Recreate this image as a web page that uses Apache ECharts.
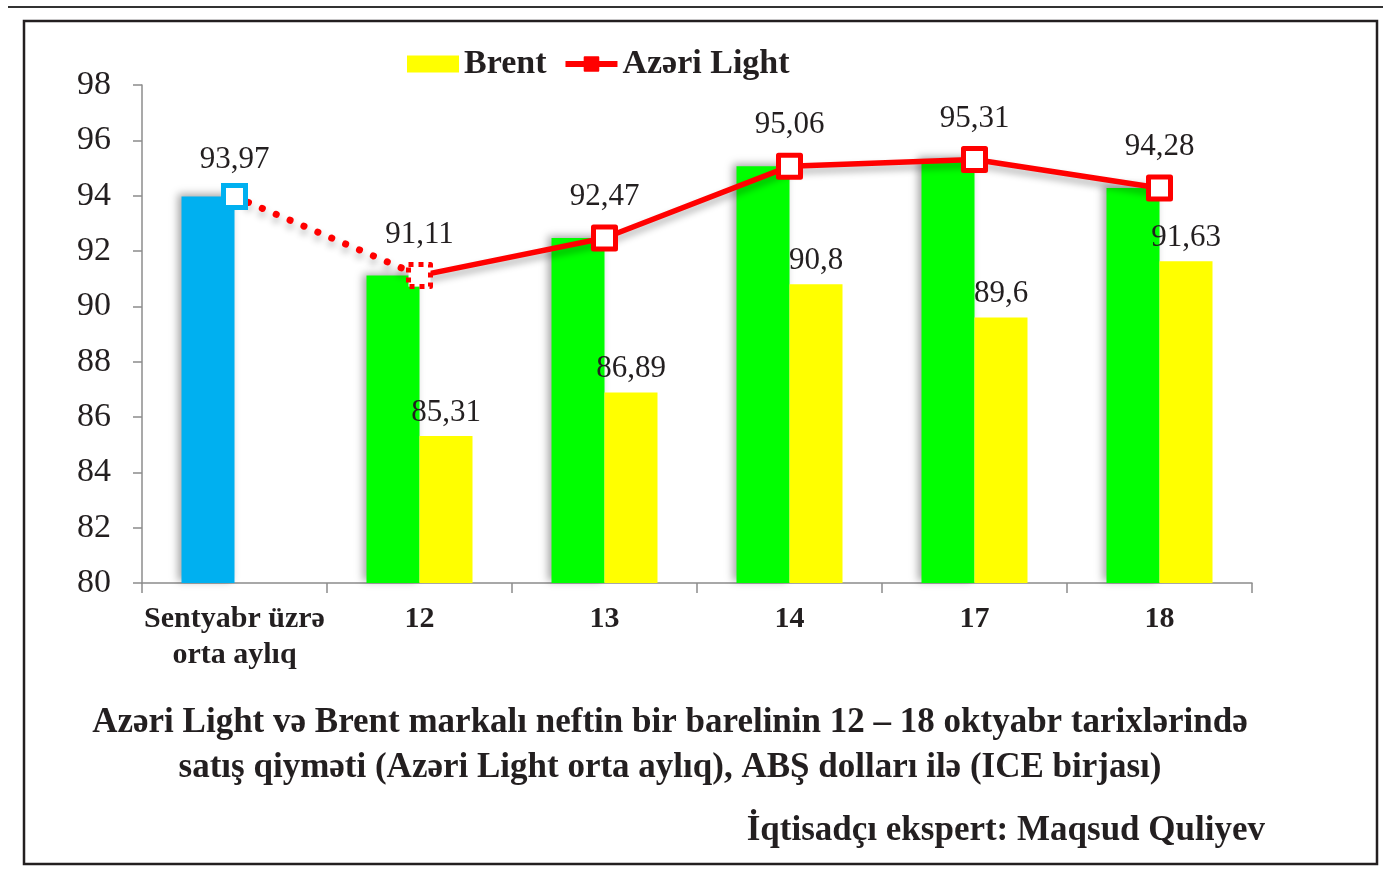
<!DOCTYPE html>
<html>
<head>
<meta charset="utf-8">
<script src="https://cdn.jsdelivr.net/npm/echarts@6/dist/echarts.min.js"></script>
<style>
  html, body { margin: 0; padding: 0; background: #fff; }
  #chart { width: 1395px; height: 875px; }
</style>
</head>
<body>
<div id="chart"></div>
<script>
// kateqoriyalar və qiymətlər
const categories = ['Sentyabr üzrə\norta aylıq', '12', '13', '14', '17', '18'];
const azeriLight = [93.97, 91.11, 92.47, 95.06, 95.31, 94.28];
const brent = [null, 85.31, 86.89, 90.8, 89.6, 91.63];
const yTicks = { min: 80, max: 98, step: 2 };

const serif = '"Liberation Serif", "DejaVu Serif", serif';
const fmt = v => String(v).replace('.', ',');
const shadow = { shadowColor: 'rgba(0,0,0,0.35)', shadowBlur: 8, shadowOffsetX: -4, shadowOffsetY: -2 };
const lineShadow = { shadowColor: 'rgba(0,0,0,0.3)', shadowBlur: 7, shadowOffsetY: 5 };

const chart = echarts.init(document.getElementById('chart'));

const option = {
  backgroundColor: '#fff',
  animation: false,
  textStyle: { fontFamily: serif },
  grid: { left: 142, right: 143, top: 85, bottom: 292 },
  legend: {
    data: [
      { name: 'Brent', icon: 'rect' },
      { name: 'Azəri Light', itemStyle: { color: '#ff0000', borderColor: '#ff0000' }, lineStyle: { width: 6 } },
    ],
    left: 402,
    top: 42,
    itemWidth: 52,
    itemHeight: 17,
    itemGap: 16,
    textStyle: { fontFamily: serif, fontSize: 34, fontWeight: 'bold', color: '#231f20' },
  },
  xAxis: {
    type: 'category',
    data: categories,
    axisLine: { lineStyle: { color: '#8c8c8c', width: 1.5 } },
    axisTick: { show: true, length: 10, lineStyle: { color: '#8c8c8c', width: 1.5 } },
    axisLabel: {
      interval: 0,
      fontFamily: serif, fontSize: 30, fontWeight: 'bold', color: '#231f20',
      margin: 18, lineHeight: 36,
    },
  },
  yAxis: {
    type: 'value',
    min: yTicks.min,
    max: yTicks.max,
    interval: yTicks.step,
    axisLine: { show: true, lineStyle: { color: '#8c8c8c', width: 1.5 } },
    axisTick: { show: true, length: 9, lineStyle: { color: '#8c8c8c', width: 1.5 } },
    splitLine: { show: false },
    axisLabel: { fontFamily: serif, fontSize: 34, color: '#231f20', margin: 31 },
  },
  series: [
    {
      name: 'Azəri bar',
      type: 'bar',
      barWidth: 53,
      barGap: '0%',
      data: azeriLight.map((v, i) => i === 0
        ? { value: v, itemStyle: { color: '#00b0f0' } }
        : v),
      itemStyle: Object.assign({ color: '#00ff00' }, shadow),
      z: 2,
    },
    {
      name: 'Brent',
      type: 'bar',
      barWidth: 53,
      barGap: '0%',
      data: brent.map(v => v === null ? '-' : v),
      itemStyle: { color: '#ffff00' },
      label: {
        show: true, position: 'top', distance: 8,
        fontFamily: serif, fontSize: 31, color: '#231f20',
        formatter: p => fmt(p.value),
      },
      z: 2,
    },
    {
      // sentyabr -> 12 oktyabr arası nöqtəli xətt
      name: 'Azəri dotted',
      type: 'line',
      data: azeriLight.map((v, i) => {
        if (i === 0) return {
          value: v, symbol: 'rect', symbolSize: 22,
          itemStyle: { color: '#fff', borderColor: '#00b0f0', borderWidth: 5 },
        };
        if (i === 1) return { value: v, symbol: 'none' };
        return '-';
      }),
      lineStyle: Object.assign({ color: '#ff0000', width: 7, type: [0.1, 15], cap: 'round' }, lineShadow),
      label: {
        show: true, position: 'top', distance: 8,
        fontFamily: serif, fontSize: 31, color: '#231f20',
        formatter: p => p.dataIndex === 0 ? fmt(p.value) : '',
      },
      z: 4,
    },
    {
      name: 'Azəri Light',
      type: 'line',
      data: azeriLight.map((v, i) => {
        if (i === 0) return '-';
        if (i === 1) return {
          value: v,
          itemStyle: { color: '#fff', borderColor: '#ff0000', borderWidth: 5, borderType: [5, 5] },
        };
        return v;
      }),
      symbol: 'rect',
      symbolSize: 22,
      itemStyle: { color: '#fff', borderColor: '#ff0000', borderWidth: 5, borderJoin: 'round' },
      lineStyle: Object.assign({ color: '#ff0000', width: 5.5 }, lineShadow),
      label: {
        show: true, position: 'top', distance: 12,
        fontFamily: serif, fontSize: 31, color: '#231f20',
        formatter: p => fmt(p.value),
      },
      z: 5,
    },
  ],
  graphic: [
    { type: 'line', shape: { x1: 8, y1: 7, x2: 1383, y2: 7 },
      style: { stroke: '#333', lineWidth: 2 } },
    { type: 'rect', shape: { x: 24, y: 21, width: 1353, height: 843 },
      style: { fill: null, stroke: '#231f20', lineWidth: 2.5 }, z: 10 },
    { type: 'text', x: 670, y: 700,
      style: {
        text: 'Azəri Light və Brent markalı neftin bir barelinin 12 – 18 oktyabr tarixlərində\nsatış qiyməti (Azəri Light orta aylıq), ABŞ dolları ilə (ICE birjası)',
        font: 'bold 35px ' + serif, fill: '#231f20', align: 'center', lineHeight: 45,
      } },
    { type: 'text', x: 1265, y: 813,
      style: { text: 'İqtisadçı ekspert: Maqsud Quliyev', font: 'bold 35px ' + serif,
        fill: '#231f20', align: 'right' } },
  ],
};

chart.setOption(option);
window.addEventListener('resize', () => chart.resize());
</script>
</body>
</html>
